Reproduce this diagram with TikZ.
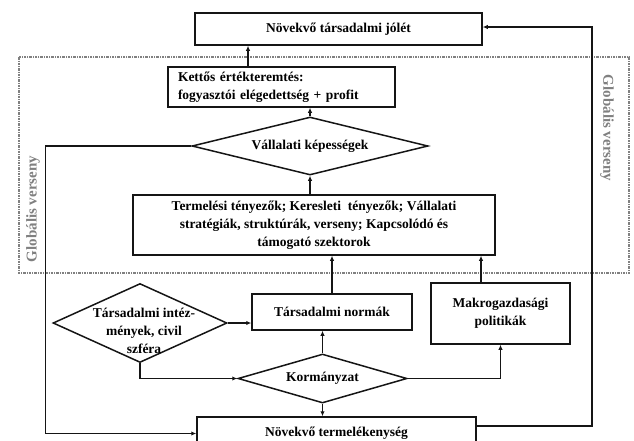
\documentclass[tikz,border=0pt]{standalone}
\usepackage{fontspec}
\setmainfont{Liberation Serif}
\usetikzlibrary{arrows.meta,shapes.geometric}
\definecolor{lblgray}{HTML}{808080}
\definecolor{linek}{HTML}{151515}
\tikzset{
  box/.style={draw=linek, line width=1.5pt, rectangle, inner sep=0pt, align=center, font=\fontsize{13.5}{18}\selectfont\bfseries},
  dia/.style={draw=linek, line width=1.5pt, diamond, inner sep=0pt},
  txt/.style={inner sep=0pt, align=center, font=\fontsize{13.5}{18}\selectfont\bfseries},
  arr/.style={draw=linek, line width=1.5pt, -{Latex[length=5pt,width=4.5pt]}},
  frame/.style={draw=lblgray, line width=1.1pt, dash pattern=on 2.5pt off 1pt on 1pt off 1pt},
  glob/.style={text=lblgray, inner sep=0pt, font=\fontsize{15}{17}\selectfont\bfseries}
}
\begin{document}
\begin{tikzpicture}[x=1pt,y=-1pt]
\path[use as bounding box, clip] (0,0) rectangle (634,440);
% dotted frame
\draw[frame] (19,57) rectangle (629,273);
\node[glob, rotate=90] (gl) at (33,209) {Globális verseny};
\node[glob, rotate=-90] (gr) at (607,128) {Globális verseny};
% boxes
\node[box, minimum width=287pt, minimum height=32pt] (top) at (338.5,29) {Növekvő társadalmi jólét};
\node[box, minimum width=227pt, minimum height=40pt, text width=207pt, inner xsep=10pt, align=left] (kettos) at (281.5,87) {Kettős értékteremtés:\\fogyasztói elégedettség + profit};
\node[dia, minimum width=236pt, minimum height=58pt] (vall) at (310,146) {};
\node[txt] (vallt) at (vall.center) {Vállalati képességek};
\node[box, minimum width=362pt, minimum height=60pt] (term) at (314,225) {Termelési tényezők; Keresleti\ \ tényezők; Vállalati\\stratégiák, struktúrák, verseny; Kapcsolódó és\\támogató szektorok};
\node[dia, minimum width=174pt, minimum height=79pt] (tint) at (140,323) {};
\node[txt] (tintt) at (144,331) {Társadalmi intéz-\\mények, civil\\szféra};
\node[box, minimum width=160pt, minimum height=36pt] (norm) at (332,312) {Társadalmi normák};
\node[box, minimum width=139pt, minimum height=61pt] (makro) at (500.5,313.5) {Makrogazdasági\\politikák};
\node[dia, minimum width=169pt, minimum height=49pt] (korm) at (322.5,378.5) {};
\node[txt] (kormt) at (korm.center) {Kormányzat};
\node[box, minimum width=279pt, minimum height=33pt] (bottom) at (336.5,433.5) {};
\node[txt] (bottomt) at (336.5,433) {Növekvő termelékenység};
% connectors
\draw[arr] ([xshift=-33.5pt]kettos.north) coordinate (k1) -- (k1 |- top.south);
\draw[arr] (vall.north) -- (vall.north |- kettos.south);
\draw[arr] (term.north -| vall.south) -- (vall.south);
\draw[arr] (vall.west) -- ++(-146,0) |- (bottom.west);
\draw[arr] (tint.east) -- (tint.east -| norm.west);
\draw[arr] (tint.south) |- (korm.west);
\draw[arr] (norm.north) -- (norm.north |- term.south);
\draw[arr] (korm.north) -- (korm.north |- norm.south);
\draw[arr] (korm.east) -| (makro.south);
\draw[arr] ([xshift=-19.5pt]makro.north) coordinate (m1) -- (m1 |- term.south);
\draw[arr] (korm.south) -- (korm.south |- bottom.north);
\draw[arr] ([yshift=7.5pt]bottom.east) -- ++(115,0) |- ([yshift=2pt]top.east);
\end{tikzpicture}
\end{document}
